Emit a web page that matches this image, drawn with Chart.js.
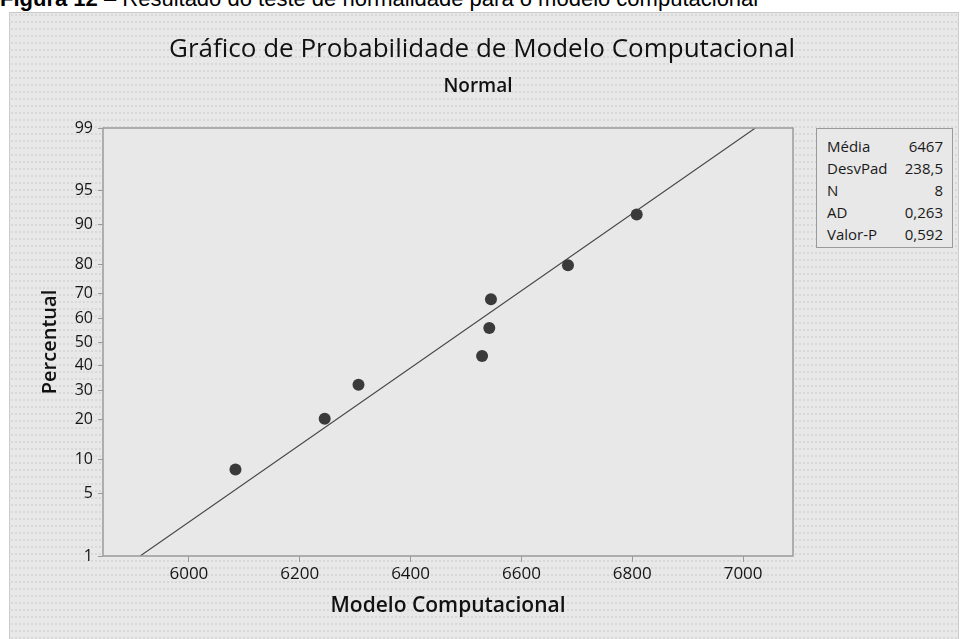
<!DOCTYPE html>
<html>
<head>
<meta charset="utf-8">
<script src="https://cdn.jsdelivr.net/npm/chart.js@4.4.1/dist/chart.umd.min.js"></script>
<style>
html,body{margin:0;padding:0;background:#fff;width:960px;height:639px;overflow:hidden;position:relative;}
#caption{position:absolute;left:0;top:-12px;font-family:"Liberation Sans",Arial,sans-serif;font-size:22px;line-height:22px;color:#000;white-space:nowrap;}
#frame{position:absolute;left:9px;top:12px;width:948px;height:640px;border:1px solid #cacaca;background-color:#e8e8e8;
 background-image:radial-gradient(circle at 2px 2px,#d8d8d8 0.8px,transparent 1.2px);background-size:4px 7px;}
#chart{position:absolute;left:0;top:0;}
#stats{position:absolute;left:816px;top:128px;width:135px;height:118px;border:1px solid #9a9a9a;background:#e8e8e8;
 font-family:"Open Sans",sans-serif;font-size:15px;color:#1a1a1a;}
#stats .row{position:absolute;left:10px;right:9px;height:22px;line-height:22px;}
#stats .v{position:absolute;right:0;top:0;}
</style>
</head>
<body>
<div id="caption"><b>Figura 12</b> – Resultado do teste de normalidade para o modelo computacional</div>
<div id="frame"></div>
<canvas id="chart" width="960" height="639"></canvas>
<div id="stats"></div>
<script>
// ---- data ----
const xValues = [6084, 6245, 6306, 6529, 6542, 6545, 6684, 6808];
const percentValues = [8.3, 20.2, 32.1, 44.0, 56.0, 67.9, 79.8, 91.7];
const fitX = [5912, 7022];
const fitPercent = [1, 99];
const probTicks = [1, 5, 10, 20, 30, 40, 50, 60, 70, 80, 90, 95, 99];
const xTicks = [6000, 6200, 6400, 6600, 6800, 7000];
const statLabels = ['Média', 'DesvPad', 'N', 'AD', 'Valor-P'];
const statValues = ['6467', '238,5', '8', '0,263', '0,592'];

// inverse standard normal CDF (probability axis transform)
function probit(p){
  const a=[-3.969683028665376e+01,2.209460984245205e+02,-2.759285104469687e+02,1.383577518672690e+02,-3.066479806614716e+01,2.506628277459239e+00];
  const b=[-5.447609879822406e+01,1.615858368580409e+02,-1.556989798598866e+02,6.680131188771972e+01,-1.328068155288572e+01];
  const c=[-7.784894002430293e-03,-3.223964580411365e-01,-2.400758277161838e+00,-2.549732539343734e+00,4.374664141464968e+00,2.938163982698783e+00];
  const d=[7.784695709041462e-03,3.224671290700398e-01,2.445134137142996e+00,3.754408661907416e+00];
  const pl=0.02425, ph=1-pl; let q,r;
  if(p<pl){q=Math.sqrt(-2*Math.log(p));return (((((c[0]*q+c[1])*q+c[2])*q+c[3])*q+c[4])*q+c[5])/((((d[0]*q+d[1])*q+d[2])*q+d[3])*q+1);}
  if(p>ph){q=Math.sqrt(-2*Math.log(1-p));return -(((((c[0]*q+c[1])*q+c[2])*q+c[3])*q+c[4])*q+c[5])/((((d[0]*q+d[1])*q+d[2])*q+d[3])*q+1);}
  q=p-0.5;r=q*q;return (((((a[0]*r+a[1])*r+a[2])*r+a[3])*r+a[4])*r+a[5])*q/(((((b[0]*r+b[1])*r+b[2])*r+b[3])*r+b[4])*r+1);
}
const z = pct => probit(pct/100);

// stats box
const statsEl = document.getElementById('stats');
statLabels.forEach((lab,i)=>{
  const row=document.createElement('div');row.className='row';row.style.top=(6+22*i)+'px';
  row.innerHTML='<span>'+lab+'</span><span class="v">'+statValues[i]+'</span>';
  statsEl.appendChild(row);
});

const TEXT='#151515', AXIS='#9a9a9a';
const plotDecor = {
  id:'plotDecor',
  beforeDraw(chart){
    const {ctx, chartArea:a}=chart;
    ctx.save();ctx.fillStyle='#e8e8e8';ctx.fillRect(a.left,a.top,a.right-a.left,a.bottom-a.top);ctx.restore();
  },
  afterDraw(chart){
    const {ctx, chartArea:a}=chart;
    ctx.save();
    ctx.strokeStyle=AXIS;ctx.lineWidth=1.5;
    ctx.strokeRect(a.left,a.top,a.right-a.left,a.bottom-a.top);
    ctx.fillStyle='#111';ctx.textAlign='center';ctx.textBaseline='middle';
    ctx.font='26px "Open Sans"';
    ctx.fillText('Gráfico de Probabilidade de Modelo Computacional',482,50);
    ctx.font='600 19px "Open Sans"';
    ctx.fillText('Normal',478,87);
    ctx.restore();
  }
};

new Chart(document.getElementById('chart'),{
  type:'scatter',
  data:{datasets:[
    {label:'Ajuste',data:fitX.map((x,i)=>({x:x,y:z(fitPercent[i])})),showLine:true,borderColor:'#444',borderWidth:1.1,pointRadius:0,fill:false,order:2},
    {label:'Modelo Computacional',data:xValues.map((x,i)=>({x:x,y:z(percentValues[i])})),pointRadius:6,pointHoverRadius:6,backgroundColor:'#3a3a3a',borderWidth:0,order:1}
  ]},
  options:{
    responsive:false,animation:false,devicePixelRatio:1,
    layout:{padding:{left:9,top:128,right:167,bottom:13}},
    plugins:{legend:{display:false},tooltip:{enabled:false},title:{display:false}},
    scales:{
      x:{type:'linear',min:5845,max:7090,
        afterBuildTicks:s=>{s.ticks=xTicks.map(v=>({value:v}));},
        afterFit:s=>{s.height=70;},
        ticks:{autoSkip:false,maxRotation:0,color:TEXT,font:{family:'Open Sans',size:17},padding:2,callback:v=>String(v)},
        grid:{drawOnChartArea:false,drawTicks:true,tickLength:6,color:AXIS,lineWidth:1},
        border:{display:false},
        title:{display:true,text:'Modelo Computacional',color:'#111',font:{family:'Open Sans',size:21,weight:'600'},padding:{top:0,bottom:7}}
      },
      y:{type:'linear',min:z(1),max:z(99),
        afterBuildTicks:s=>{s.ticks=probTicks.map(p=>({value:z(p)}));},
        afterFit:s=>{s.width=94;},
        ticks:{autoSkip:false,color:TEXT,font:{family:'Open Sans',size:16},padding:5,
          callback:(v,i)=>String(probTicks[i])},
        grid:{drawOnChartArea:false,drawTicks:true,tickLength:5,color:AXIS,lineWidth:1},
        border:{display:false},
        title:{display:true,text:'Percentual',color:'#111',font:{family:'Open Sans',size:20,weight:'600'},padding:{top:29,bottom:0}}
      }
    }
  },
  plugins:[plotDecor]
});
</script>
</body>
</html>
